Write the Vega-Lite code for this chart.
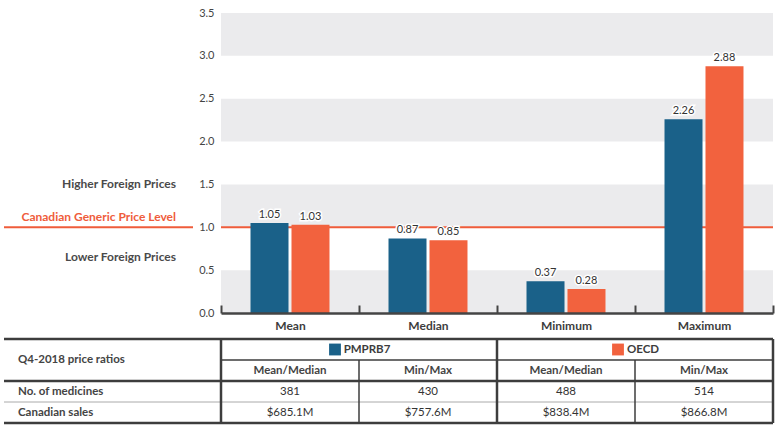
{
  "$schema": "https://vega.github.io/schema/vega-lite/v6.json",
  "background": "white",
  "padding": {"left": 2, "top": 7, "right": 0, "bottom": 0},
  "config": {
    "font": "Lato",
    "view": {"stroke": null}
  },
  "datasets": {
    "bars": [
      {"stat": "Mean", "series": "PMPRB7", "value": 1.05},
      {"stat": "Mean", "series": "OECD", "value": 1.03},
      {"stat": "Median", "series": "PMPRB7", "value": 0.87},
      {"stat": "Median", "series": "OECD", "value": 0.85},
      {"stat": "Minimum", "series": "PMPRB7", "value": 0.37},
      {"stat": "Minimum", "series": "OECD", "value": 0.28},
      {"stat": "Maximum", "series": "PMPRB7", "value": 2.26},
      {"stat": "Maximum", "series": "OECD", "value": 2.88}
    ],
    "bands": [
      {"lo": 0, "hi": 0.5},
      {"lo": 1, "hi": 1.5},
      {"lo": 2, "hi": 2.5},
      {"lo": 3, "hi": 3.5}
    ],
    "reference": [{"level": 1.0}],
    "sideLabels": [
      {"label": "Higher Foreign Prices", "level": 1.5, "kind": "side"},
      {"label": "Canadian Generic Price Level", "level": 1.12, "kind": "ref"},
      {"label": "Lower Foreign Prices", "level": 0.65, "kind": "side"}
    ],
    "tableRows": [
      {"row": "group", "label": ""},
      {"row": "measure", "label": "Q4-2018 price ratios"},
      {"row": "No. of medicines", "label": "No. of medicines"},
      {"row": "Canadian sales", "label": "Canadian sales"}
    ],
    "groups": [
      {"col": "PMPRB7|Min/Max", "group": "PMPRB7"},
      {"col": "OECD|Min/Max", "group": "OECD"}
    ],
    "cells": [
      {"row": "measure", "col": "PMPRB7|Mean/Median", "text": "Mean/Median"},
      {"row": "measure", "col": "PMPRB7|Min/Max", "text": "Min/Max"},
      {"row": "measure", "col": "OECD|Mean/Median", "text": "Mean/Median"},
      {"row": "measure", "col": "OECD|Min/Max", "text": "Min/Max"},
      {"row": "No. of medicines", "col": "PMPRB7|Mean/Median", "text": "381"},
      {"row": "No. of medicines", "col": "PMPRB7|Min/Max", "text": "430"},
      {"row": "No. of medicines", "col": "OECD|Mean/Median", "text": "488"},
      {"row": "No. of medicines", "col": "OECD|Min/Max", "text": "514"},
      {"row": "Canadian sales", "col": "PMPRB7|Mean/Median", "text": "$685.1M"},
      {"row": "Canadian sales", "col": "PMPRB7|Min/Max", "text": "$757.6M"},
      {"row": "Canadian sales", "col": "OECD|Mean/Median", "text": "$838.4M"},
      {"row": "Canadian sales", "col": "OECD|Min/Max", "text": "$866.8M"}
    ],
    "cols": [
      {"col": "PMPRB7|Mean/Median", "group": "PMPRB7"},
      {"col": "PMPRB7|Min/Max", "group": "PMPRB7"},
      {"col": "OECD|Mean/Median", "group": "OECD"},
      {"col": "OECD|Min/Max", "group": "OECD"}
    ]
  },
  "spacing": 6,
  "vconcat": [
    {
      "spacing": 28,
      "bounds": "flush",
      "hconcat": [
        {
          "width": 189,
          "height": 300,
          "layer": [
            {
              "data": {"name": "reference"},
              "mark": {"type": "rule", "color": "#ef5c3b", "strokeWidth": 2},
              "encoding": {
                "y": {"field": "level", "type": "quantitative", "scale": {"domain": [0, 3.5], "nice": false}, "axis": null}
              }
            },
            {
              "data": {"name": "sideLabels"},
              "transform": [{"filter": "datum.kind === 'side'"}],
              "mark": {"type": "text", "align": "right", "baseline": "middle", "dx": -17, "fontSize": 12, "fontWeight": "bold", "color": "#4a4a4a"},
              "encoding": {
                "x": {"value": "width"},
                "y": {"field": "level", "type": "quantitative", "axis": null},
                "text": {"field": "label"}
              }
            },
            {
              "data": {"name": "sideLabels"},
              "transform": [{"filter": "datum.kind === 'ref'"}],
              "mark": {"type": "text", "align": "right", "baseline": "middle", "dx": -17, "fontSize": 12, "fontWeight": "bold", "color": "#ef5c3b"},
              "encoding": {
                "x": {"value": "width"},
                "y": {"field": "level", "type": "quantitative", "axis": null},
                "text": {"field": "label"}
              }
            }
          ]
        },
        {
          "width": 552,
          "height": 300,
          "layer": [
            {
              "data": {"name": "bands"},
              "mark": {"type": "rect", "color": "#ebebed"},
              "encoding": {
                "y": {"field": "lo", "type": "quantitative", "scale": {"domain": [0, 3.5], "nice": false},
                  "axis": {"title": null, "values": [0, 0.5, 1, 1.5, 2, 2.5, 3, 3.5], "format": ".1f", "domain": false, "ticks": false, "grid": false, "labelFontSize": 11, "labelColor": "#444444", "labelPadding": 7}},
                "y2": {"field": "hi"}
              }
            },
            {
              "data": {"name": "reference"},
              "mark": {"type": "rule", "color": "#ef5c3b", "strokeWidth": 2},
              "encoding": {
                "y": {"field": "level", "type": "quantitative"}
              }
            },
            {
              "data": {"name": "bars"},
              "mark": {"type": "bar"},
              "encoding": {
                "x": {"field": "stat", "type": "nominal", "sort": ["Mean", "Median", "Minimum", "Maximum"], "scale": {"paddingInner": 0, "paddingOuter": 0},
                  "axis": {"title": null, "zindex": 1, "labelAngle": 0, "labelFontWeight": "bold", "labelFontSize": 12, "labelColor": "#3d3d3d", "labelPadding": 15, "domainColor": "#444444", "domainWidth": 2.5, "tickColor": "#444444", "tickWidth": 2, "tickSize": -8, "tickBand": "extent", "grid": false}},
                "xOffset": {"field": "series", "type": "nominal", "sort": ["PMPRB7", "OECD"], "scale": {"paddingInner": 0.073, "paddingOuter": 0.72}},
                "y": {"field": "value", "type": "quantitative"},
                "color": {"field": "series", "type": "nominal", "scale": {"domain": ["PMPRB7", "OECD"], "range": ["#1a6189", "#f2623e"]}, "legend": null}
              }
            },
            {
              "data": {"name": "bars"},
              "mark": {"type": "text", "baseline": "alphabetic", "dy": -5, "fontSize": 11, "color": "white", "stroke": "white", "strokeWidth": 3},
              "encoding": {
                "x": {"field": "stat", "type": "nominal", "sort": ["Mean", "Median", "Minimum", "Maximum"]},
                "xOffset": {"field": "series", "type": "nominal", "sort": ["PMPRB7", "OECD"]},
                "y": {"field": "value", "type": "quantitative"},
                "text": {"field": "value", "type": "quantitative", "format": ".2f"}
              }
            },
            {
              "data": {"name": "bars"},
              "mark": {"type": "text", "baseline": "alphabetic", "dy": -5, "fontSize": 11, "color": "#333333"},
              "encoding": {
                "x": {"field": "stat", "type": "nominal", "sort": ["Mean", "Median", "Minimum", "Maximum"]},
                "xOffset": {"field": "series", "type": "nominal", "sort": ["PMPRB7", "OECD"]},
                "y": {"field": "value", "type": "quantitative"},
                "text": {"field": "value", "type": "quantitative", "format": ".2f"}
              }
            }
          ]
        }
      ]
    },
    {
      "spacing": 0,
      "bounds": "flush",
      "hconcat": [
        {
          "width": 217,
          "height": 84,
          "data": {"name": "tableRows"},
          "encoding": {
            "y": {"field": "row", "type": "nominal", "sort": ["group", "measure", "No. of medicines", "Canadian sales"], "scale": {"domain": ["group", "measure", "No. of medicines", "Canadian sales"], "paddingInner": 0, "paddingOuter": 0}, "axis": null}
          },
          "layer": [
            {
              "transform": [{"filter": "datum.row === 'group' || datum.row === 'No. of medicines'"}],
              "mark": {"type": "rule", "color": "#3d3d3d", "strokeWidth": 2.5},
              "encoding": {"y": {"field": "row", "type": "nominal", "bandPosition": 0}}
            },
            {
              "transform": [{"filter": "datum.row === 'Canadian sales'"}],
              "mark": {"type": "rule", "color": "#aaaaaa", "strokeWidth": 1},
              "encoding": {"y": {"field": "row", "type": "nominal", "bandPosition": 0}}
            },
            {
              "transform": [{"filter": "datum.row === 'Canadian sales'"}],
              "mark": {"type": "rule", "color": "#3d3d3d", "strokeWidth": 2.5},
              "encoding": {"y": {"field": "row", "type": "nominal", "bandPosition": 1}}
            },
            {
              "transform": [{"filter": "datum.row === 'measure'"}],
              "mark": {"type": "text", "align": "left", "baseline": "middle", "dx": 14, "fontSize": 11.5, "fontWeight": "bold", "color": "#444444"},
              "encoding": {"x": {"value": 0}, "y": {"field": "row", "type": "nominal", "bandPosition": 0}, "text": {"field": "label"}}
            },
            {
              "transform": [{"filter": "datum.row === 'No. of medicines' || datum.row === 'Canadian sales'"}],
              "mark": {"type": "text", "align": "left", "baseline": "middle", "dx": 14, "fontSize": 11.5, "fontWeight": "bold", "color": "#444444"},
              "encoding": {"x": {"value": 0}, "y": {"field": "row", "type": "nominal", "bandPosition": 0.5}, "text": {"field": "label"}}
            }
          ]
        },
        {
          "width": 552,
          "height": 84,
          "layer": [
            {
              "data": {"name": "tableRows"},
              "transform": [{"filter": "datum.row === 'group' || datum.row === 'No. of medicines'"}],
              "mark": {"type": "rule", "color": "#3d3d3d", "strokeWidth": 2.5},
              "encoding": {"y": {"field": "row", "type": "nominal", "bandPosition": 0, "scale": {"domain": ["group", "measure", "No. of medicines", "Canadian sales"], "paddingInner": 0, "paddingOuter": 0}, "axis": null}}
            },
            {
              "data": {"name": "tableRows"},
              "transform": [{"filter": "datum.row === 'measure'"}],
              "mark": {"type": "rule", "color": "#3d3d3d", "strokeWidth": 1.5},
              "encoding": {"y": {"field": "row", "type": "nominal", "bandPosition": 0, "axis": null}}
            },
            {
              "data": {"name": "tableRows"},
              "transform": [{"filter": "datum.row === 'Canadian sales'"}],
              "mark": {"type": "rule", "color": "#aaaaaa", "strokeWidth": 1},
              "encoding": {"y": {"field": "row", "type": "nominal", "bandPosition": 0, "axis": null}}
            },
            {
              "data": {"name": "tableRows"},
              "transform": [{"filter": "datum.row === 'Canadian sales'"}],
              "mark": {"type": "rule", "color": "#3d3d3d", "strokeWidth": 2.5},
              "encoding": {"y": {"field": "row", "type": "nominal", "bandPosition": 1, "axis": null}}
            },
            {
              "data": {"name": "cols"},
              "transform": [{"filter": "datum.col === 'PMPRB7|Mean/Median' || datum.col === 'OECD|Mean/Median'"}],
              "mark": {"type": "rule", "color": "#3d3d3d", "strokeWidth": 2.5},
              "encoding": {"x": {"field": "col", "type": "nominal", "bandPosition": 0, "sort": ["PMPRB7|Mean/Median", "PMPRB7|Min/Max", "OECD|Mean/Median", "OECD|Min/Max"], "scale": {"domain": ["PMPRB7|Mean/Median", "PMPRB7|Min/Max", "OECD|Mean/Median", "OECD|Min/Max"], "paddingInner": 0, "paddingOuter": 0}, "axis": null}}
            },
            {
              "data": {"name": "cols"},
              "transform": [{"filter": "datum.col === 'OECD|Min/Max'"}],
              "mark": {"type": "rule", "color": "#3d3d3d", "strokeWidth": 2.5},
              "encoding": {"x": {"field": "col", "type": "nominal", "bandPosition": 1, "axis": null}}
            },
            {
              "data": {"name": "groups"},
              "transform": [{"calculate": "'measure'", "as": "from"}],
              "mark": {"type": "rule", "color": "#3d3d3d", "strokeWidth": 1.5},
              "encoding": {
                "x": {"field": "col", "type": "nominal", "bandPosition": 0, "axis": null},
                "y": {"field": "from", "type": "nominal", "bandPosition": 0, "axis": null},
                "y2": {"value": "height"}
              }
            },
            {
              "data": {"name": "groups"},
              "transform": [{"calculate": "'group'", "as": "row"}],
              "mark": {"type": "text", "align": "center", "baseline": "middle", "dx": 8, "fontSize": 11.5, "fontWeight": "bold", "color": "#3d3d3d"},
              "encoding": {
                "x": {"field": "col", "type": "nominal", "bandPosition": 0, "axis": null},
                "y": {"field": "row", "type": "nominal", "axis": null},
                "text": {"field": "group"}
              }
            },
            {
              "data": {"name": "groups"},
              "transform": [{"filter": "datum.group === 'PMPRB7'"}, {"calculate": "'group'", "as": "row"}],
              "mark": {"type": "point", "shape": "square", "filled": true, "opacity": 1, "size": 140, "xOffset": -24},
              "encoding": {
                "x": {"field": "col", "type": "nominal", "bandPosition": 0, "axis": null},
                "y": {"field": "row", "type": "nominal", "axis": null},
                "color": {"field": "group", "type": "nominal", "scale": {"domain": ["PMPRB7", "OECD"], "range": ["#1a6189", "#f2623e"]}, "legend": null}
              }
            },
            {
              "data": {"name": "groups"},
              "transform": [{"filter": "datum.group === 'OECD'"}, {"calculate": "'group'", "as": "row"}],
              "mark": {"type": "point", "shape": "square", "filled": true, "opacity": 1, "size": 140, "xOffset": -17},
              "encoding": {
                "x": {"field": "col", "type": "nominal", "bandPosition": 0, "axis": null},
                "y": {"field": "row", "type": "nominal", "axis": null},
                "color": {"field": "group", "type": "nominal", "legend": null}
              }
            },
            {
              "data": {"name": "cells"},
              "transform": [{"filter": "datum.row === 'measure'"}],
              "mark": {"type": "text", "align": "center", "baseline": "middle", "fontSize": 11.5, "fontWeight": "bold", "color": "#444444"},
              "encoding": {
                "x": {"field": "col", "type": "nominal", "axis": null},
                "y": {"field": "row", "type": "nominal", "axis": null},
                "text": {"field": "text"}
              }
            },
            {
              "data": {"name": "cells"},
              "transform": [{"filter": "datum.row !== 'measure'"}],
              "mark": {"type": "text", "align": "center", "baseline": "middle", "fontSize": 11.5, "color": "#333333"},
              "encoding": {
                "x": {"field": "col", "type": "nominal", "axis": null},
                "y": {"field": "row", "type": "nominal", "axis": null},
                "text": {"field": "text"}
              }
            }
          ]
        }
      ]
    }
  ]
}
